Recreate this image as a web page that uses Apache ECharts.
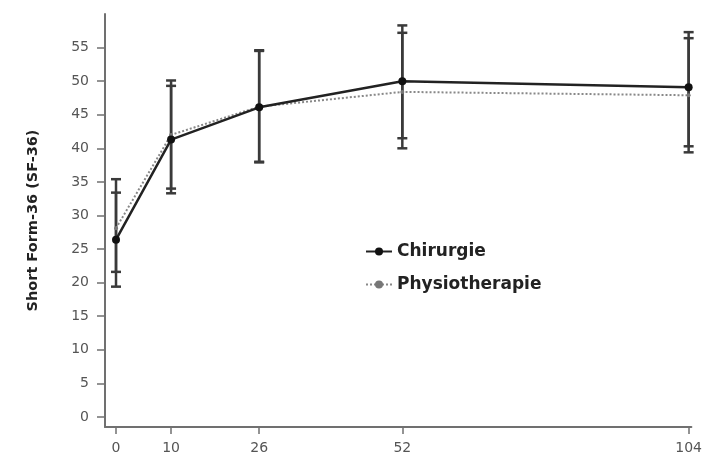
<!DOCTYPE html>
<html>
<head>
<meta charset="utf-8">
<script src="https://cdn.jsdelivr.net/npm/echarts@6/dist/echarts.min.js"></script>
<style>
  html, body { margin: 0; padding: 0; background: #fff; }
  #chart { width: 705px; height: 465px; }
</style>
</head>
<body>
<div id="chart"></div>
<script>
// weeks after start
var weeks = [0, 10, 26, 52, 104];
var yTicks = [0, 5, 10, 15, 20, 25, 30, 35, 40, 45, 50, 55];

// Chirurgie: mean and error bar ends
var chirMean = [26.4, 41.3, 46.1, 50.0, 49.1];
var chirLow  = [19.4, 33.3, 37.9, 41.5, 40.3];
var chirHigh = [33.4, 49.3, 54.5, 58.3, 57.3];

// Physiotherapie
var physMean = [28.1, 42.0, 46.2, 48.4, 47.9];
var physLow  = [21.6, 34.0, 38.0, 40.0, 39.4];
var physHigh = [35.4, 50.1, 54.6, 57.2, 56.4];

var chart = echarts.init(document.getElementById('chart'));

function pairs(xs, ys) {
  return xs.map(function (x, i) { return [x, ys[i]]; });
}
function bars(xs, lo, hi) {
  return xs.map(function (x, i) { return [x, lo[i], hi[i]]; });
}

function renderBar(params, api) {
  var x = api.value(0);
  var lo = api.coord([x, api.value(1)]);
  var hi = api.coord([x, api.value(2)]);
  var w = 5;
  var st = { stroke: '#3a3a3a', lineWidth: 2.5 };
  return {
    type: 'group',
    children: [
      { type: 'line', shape: { x1: lo[0], y1: lo[1], x2: hi[0], y2: hi[1] }, style: st },
      { type: 'line', shape: { x1: lo[0] - w, y1: lo[1], x2: lo[0] + w, y2: lo[1] }, style: st },
      { type: 'line', shape: { x1: hi[0] - w, y1: hi[1], x2: hi[0] + w, y2: hi[1] }, style: st }
    ]
  };
}

var fontFam = '"DejaVu Sans", Verdana, sans-serif';

var option = {
  backgroundColor: '#fff',
  animation: false,
  grid: { left: 105, right: 12, top: 14, bottom: 38 },
  legend: {
    data: ['Chirurgie', 'Physiotherapie'],
    orient: 'vertical',
    left: 360,
    top: 238,
    itemGap: 16,
    itemWidth: 26,
    itemHeight: 10,
    textStyle: { fontFamily: fontFam, fontSize: 17, fontWeight: 'bold', color: '#222' }
  },
  xAxis: {
    type: 'value',
    min: -2,
    max: 104.5,
    splitLine: { show: false },
    axisLine: { onZero: false, lineStyle: { color: '#707070', width: 2 } },
    axisTick: { customValues: weeks, length: 7, lineStyle: { color: '#707070', width: 1.5 } },
    axisLabel: { customValues: weeks, margin: 14, color: '#555', fontSize: 14, fontFamily: fontFam }
  },
  yAxis: {
    type: 'value',
    min: -1.5,
    max: 60,
    name: 'Short Form-36 (SF-36)',
    nameLocation: 'middle',
    nameGap: 64,
    nameTextStyle: { fontFamily: fontFam, fontSize: 14.5, fontWeight: 'bold', color: '#222' },
    splitLine: { show: false },
    axisLine: { show: true, onZero: false, lineStyle: { color: '#707070', width: 2 } },
    axisTick: { customValues: yTicks, length: 8, lineStyle: { color: '#707070', width: 1.5 } },
    axisLabel: { customValues: yTicks, margin: 16, color: '#555', fontSize: 14, fontFamily: fontFam }
  },
  series: [
    {
      type: 'custom',
      renderItem: renderBar,
      data: bars(weeks, physLow, physHigh),
      z: 1,
      silent: true
    },
    {
      type: 'custom',
      renderItem: renderBar,
      data: bars(weeks, chirLow, chirHigh),
      z: 1,
      silent: true
    },
    {
      name: 'Physiotherapie',
      type: 'line',
      data: pairs(weeks, physMean),
      symbol: 'circle',
      symbolSize: 4,
      itemStyle: { color: '#777' },
      lineStyle: { color: '#888', width: 2, type: 'dotted' },
      z: 2
    },
    {
      name: 'Chirurgie',
      type: 'line',
      data: pairs(weeks, chirMean),
      symbol: 'circle',
      symbolSize: 8,
      itemStyle: { color: '#111' },
      lineStyle: { color: '#222', width: 2.5 },
      z: 3
    }
  ]
};

chart.setOption(option);
</script>
</body>
</html>
